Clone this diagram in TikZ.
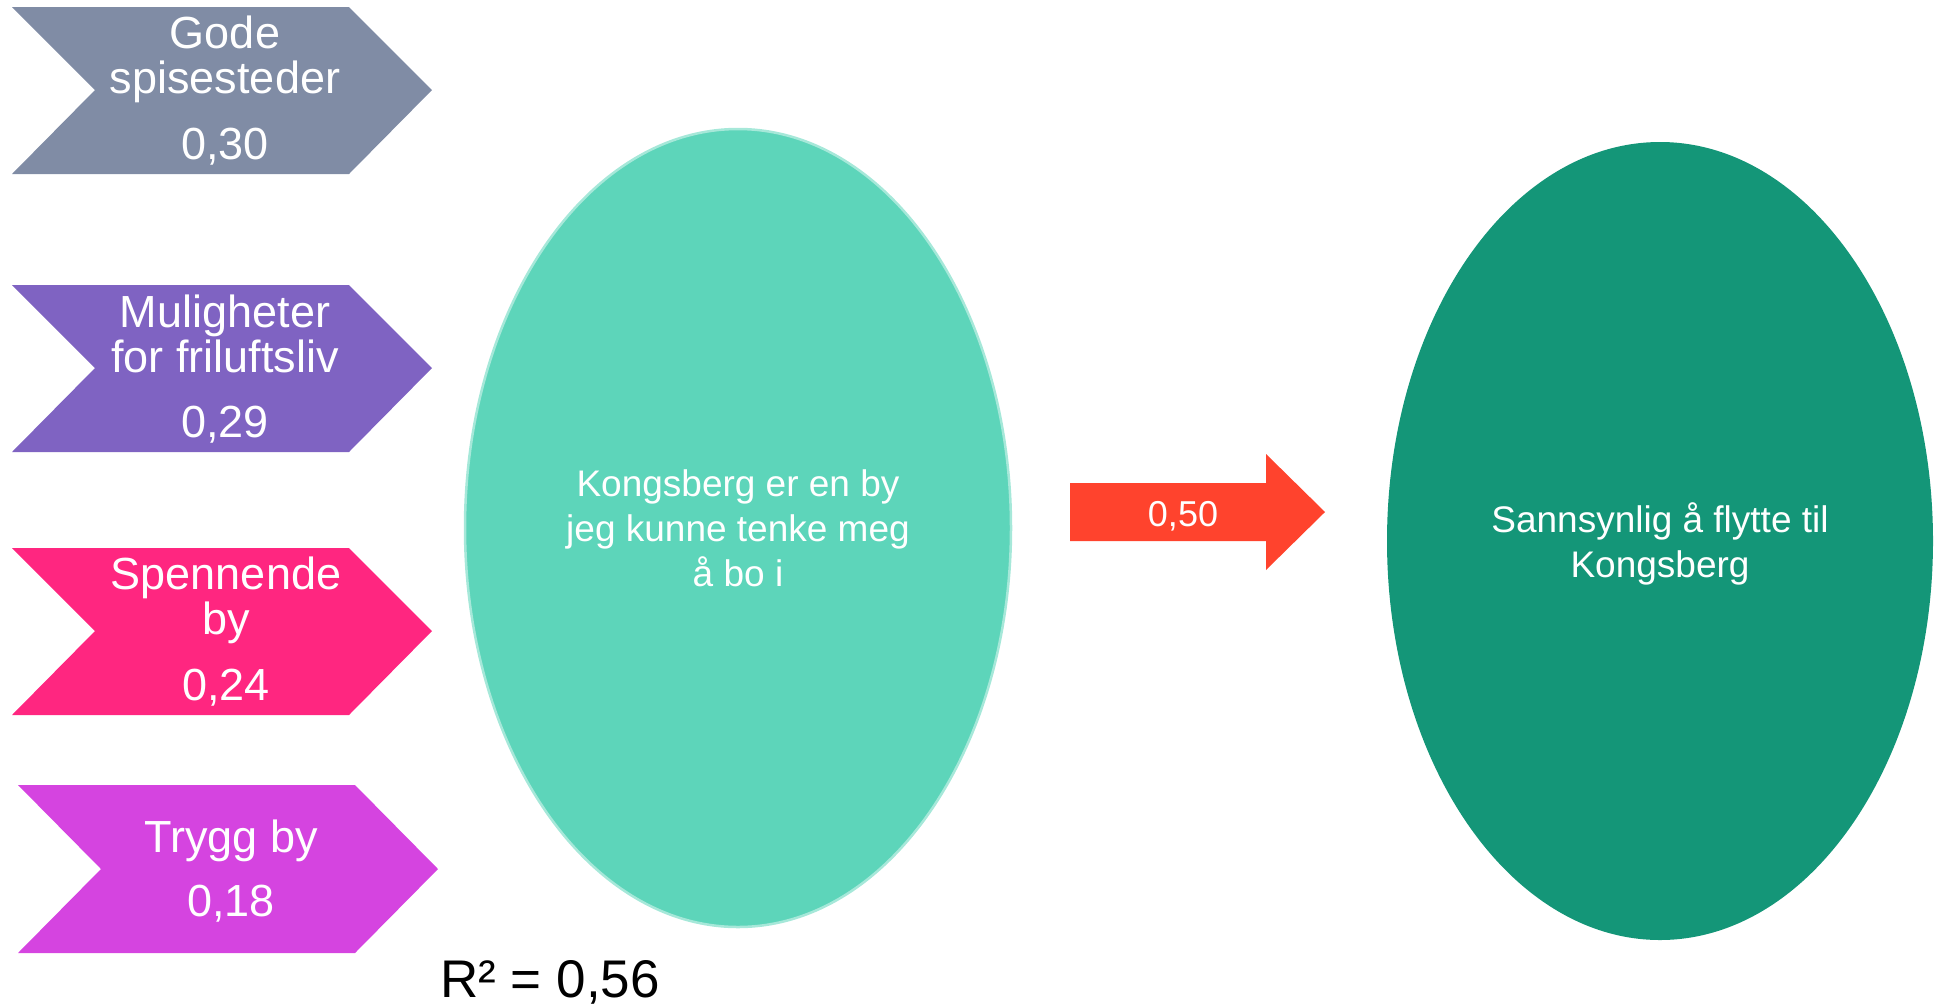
\documentclass[tikz,border=0pt]{standalone}
\usepackage{fontspec}
\setmainfont{Liberation Sans}
\usetikzlibrary{shapes.geometric}
\definecolor{godegrey}{RGB}{128,140,165}
\definecolor{muligpurple}{RGB}{127,99,194}
\definecolor{spennpink}{RGB}{255,38,128}
\definecolor{tryggmagenta}{RGB}{213,68,224}
\definecolor{bymint}{RGB}{93,213,186}
\definecolor{flyttgreen}{RGB}{20,150,120}
\definecolor{effectred}{RGB}{255,67,45}
\tikzset{
  chevtext/.style={text=white, align=center, inner sep=0pt,
    font=\fontsize{45}{45}\selectfont},
  oval/.style={ellipse, minimum width=546pt, minimum height=798pt,
    inner sep=0pt, text=white, align=center,
    font=\fontsize{37}{45}\selectfont}
}

\begin{document}
\begin{tikzpicture}[x=1pt,y=-1pt]
      \useasboundingbox (0,0) rectangle (1938,1005);
      % predictors
      \fill[godegrey] (12,7) -- (349,7) -- (432,90) -- (349,174) -- (12,174) -- (95,90) -- cycle;
      \node[chevtext] (gode) at (225,91) {Gode\\spisesteder\\[21pt]0,30};
      \fill[muligpurple] (12,285) -- (349,285) -- (432,368) -- (349,452) -- (12,452) -- (95,368) -- cycle;
      \node[chevtext] (mulig) at (225,369) {Muligheter\\for friluftsliv\\[20pt]0,29};
      \fill[spennpink] (12,548) -- (349,548) -- (432,631) -- (349,715) -- (12,715) -- (95,631) -- cycle;
      \node[chevtext] (spenn) at (226,632) {Spennende\\by\\[21pt]0,24};
      \fill[tryggmagenta] (18,785) -- (355,785) -- (438,869) -- (355,953) -- (18,953) -- (101,869) -- cycle;
      \node[chevtext] (trygg) at (231,871) {Trygg by\\[19pt]0,18};
      % outcomes
      \node[oval, fill=bymint, draw=bymint!55!white, line width=2.5pt] (by) at (738,528) {Kongsberg er en by\\jeg kunne tenke meg\\å bo i};
      \node[oval, fill=flyttgreen] (flytt) at (1660,541) {\rule{0pt}{36pt}Sannsynlig å flytte til\\Kongsberg};
      \fill[effectred] (1070,483) -- (1266,483) -- (1266,454) -- (1325,512) -- (1266,570) -- (1266,541) -- (1070,541) -- cycle;
      \node[anchor=base, inner sep=0pt, text=white, font=\fontsize{36}{40}\selectfont] (beta) at (1183,526) {0,50};
      \node[anchor=base, inner sep=0pt, font=\fontsize{53}{60}\selectfont] (rsq) at (550,997) {R² = 0,56};
\end{tikzpicture}
\end{document}
